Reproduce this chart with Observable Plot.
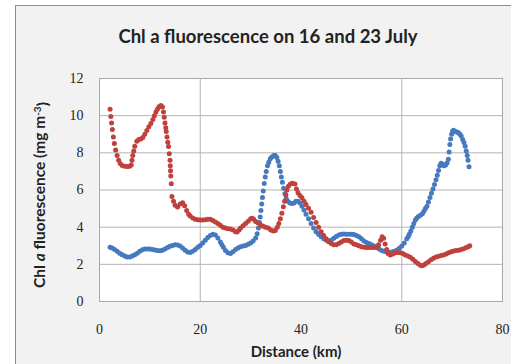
<!DOCTYPE html>
<html>
<head>
<meta charset="utf-8">
<script src="https://cdn.jsdelivr.net/npm/d3@7"></script>
<script src="https://cdn.jsdelivr.net/npm/@observablehq/plot@0.6"></script>
<style>
  html, body { margin: 0; padding: 0; background: #ffffff; }
  #chart { position: relative; width: 511px; height: 364px; overflow: hidden; }
  #area { position: absolute; left: 15px; top: 5px; width: 520px; height: 380px;
          border: 1.5px solid #8c8c8c; background: #f2f2f2; box-sizing: border-box; }
  #chart svg { position: absolute; left: 0; top: 0; }
</style>
</head>
<body>
<div id="chart"><div id="area"></div></div>
<script>
// Chlorophyll a fluorescence along the transect: [distance km, mg m^-3]
const july16 = [
  [2.1,2.92],[2.5,2.88],[3.0,2.8],[3.5,2.7],[4.0,2.6],[4.5,2.52],[5.0,2.45],[5.5,2.4],[6.0,2.4],
  [6.5,2.45],[7.0,2.52],[7.5,2.6],[8.0,2.7],[8.5,2.78],[9.0,2.83],[9.5,2.83],[10.0,2.82],[10.5,2.8],
  [11.0,2.77],[11.5,2.74],[12.0,2.73],[12.5,2.76],[13.0,2.82],[13.5,2.9],[14.0,2.97],[14.5,3.02],
  [15.0,3.05],[15.5,3.04],[16.0,2.98],[16.5,2.88],[17.0,2.76],[17.5,2.66],[18.0,2.64],[18.5,2.7],
  [19.0,2.8],[19.5,2.92],[20.0,3.02],[20.5,3.15],[21.0,3.3],[21.5,3.45],[22.0,3.55],[22.5,3.62],
  [23.0,3.58],[23.5,3.42],[24.0,3.2],[24.3,3.05],[24.6,2.92],[25.0,2.75],[25.5,2.62],[26.0,2.58],
  [26.5,2.68],[27.0,2.8],[27.5,2.88],[28.0,2.94],[28.5,2.98],[29.0,3.02],[29.5,3.08],[30.0,3.15],
  [30.5,3.25],[31.0,3.42],[31.3,3.65],[31.55,3.95],[31.75,4.25],[31.9,4.55],[32.05,4.9],[32.2,5.25],
  [32.35,5.6],[32.5,5.95],[32.7,6.35],[32.9,6.7],[33.1,7.0],[33.35,7.3],[33.6,7.5],[33.9,7.68],
  [34.2,7.78],[34.6,7.85],[34.9,7.85],[35.2,7.75],[35.45,7.55],[35.7,7.3],[35.9,7.0],[36.1,6.7],
  [36.3,6.42],[36.55,6.1],[36.8,5.8],[37.05,5.55],[37.4,5.4],[37.8,5.3],[38.2,5.28],[38.6,5.3],
  [39.0,5.4],[39.4,5.4],[39.8,5.3],[40.2,5.12],[40.6,4.92],[41.0,4.7],[41.5,4.45],[42.0,4.2],
  [42.5,3.95],[43.0,3.75],[43.5,3.6],[44.0,3.48],[44.5,3.38],[45.0,3.3],[45.5,3.27],[46.0,3.3],
  [46.5,3.4],[47.0,3.5],[47.5,3.58],[48.0,3.62],[48.5,3.63],[49.0,3.62],[49.5,3.62],[50.0,3.62],
  [50.5,3.6],[51.0,3.55],[51.5,3.48],[52.0,3.38],[52.5,3.25],[53.0,3.18],[53.5,3.12],[54.0,3.05],
  [54.5,2.98],[55.0,2.9],[55.5,2.82],[56.0,2.75],[56.5,2.7],[57.0,2.67],[57.5,2.65],[58.0,2.66],
  [58.5,2.7],[59.0,2.76],[59.5,2.86],[60.0,2.98],[60.5,3.15],[61.0,3.38],[61.3,3.5],[61.5,3.62],
  [61.8,3.8],[62.1,4.0],[62.4,4.2],[62.7,4.38],[63.0,4.5],[63.3,4.58],[63.7,4.64],[64.1,4.72],
  [64.4,4.85],[64.7,5.0],[65.0,5.12],[65.3,5.35],[65.6,5.6],[65.9,5.82],[66.2,6.05],[66.5,6.3],
  [66.8,6.55],[67.05,6.8],[67.3,7.05],[67.55,7.3],[67.8,7.44],[68.1,7.38],[68.4,7.3],[68.7,7.35],
  [69.0,7.45],[69.25,7.65],[69.4,8.05],[69.55,8.45],[69.7,8.75],[69.9,9.0],[70.1,9.18],[70.3,9.22],
  [70.6,9.15],[70.9,9.12],[71.2,9.1],[71.5,9.02],[71.8,8.9],[72.1,8.72],[72.35,8.55],[72.6,8.35],
  [72.8,8.1],[73.0,7.85],[73.15,7.6],[73.35,7.25]
];

const july23 = [
  [2.1,10.35],[2.25,9.95],[2.4,9.6],[2.55,9.25],[2.75,8.85],[2.95,8.5],[3.2,8.15],[3.5,7.85],
  [3.8,7.6],[4.1,7.42],[4.5,7.32],[5.0,7.28],[5.5,7.27],[6.0,7.28],[6.3,7.35],[6.45,7.6],[6.6,7.85],
  [6.8,8.1],[7.0,8.35],[7.4,8.62],[7.8,8.72],[8.2,8.75],[8.6,8.82],[9.0,9.0],[9.4,9.2],[9.8,9.4],
  [10.2,9.58],[10.6,9.8],[10.9,10.0],[11.2,10.2],[11.5,10.35],[11.8,10.48],[12.2,10.55],[12.5,10.47],
  [12.7,10.2],[12.85,9.92],[13.0,9.6],[13.15,9.35],[13.25,9.15],[13.4,8.85],[13.55,8.57],[13.7,8.34],
  [13.85,7.95],[14.0,7.6],[14.05,7.31],[14.1,7.04],[14.15,6.75],[14.25,6.33],[14.37,5.65],
  [14.7,5.4],[15.0,5.18],[15.5,5.08],[16.0,5.25],[16.5,5.32],[16.9,5.15],[17.3,4.9],[17.7,4.7],
  [18.0,4.6],[18.5,4.5],[19.0,4.43],[19.5,4.4],[20.0,4.39],[20.5,4.38],[21.0,4.4],[21.5,4.42],
  [22.0,4.42],[22.5,4.36],[23.0,4.28],[23.5,4.2],[24.0,4.1],[24.5,4.0],[25.0,3.95],[25.5,3.92],
  [26.0,3.9],[26.5,3.85],[27.0,3.76],[27.3,3.74],[27.7,3.85],[28.0,3.95],[28.5,4.08],[29.0,4.2],
  [29.5,4.32],[30.0,4.45],[30.3,4.48],[30.6,4.42],[31.0,4.3],[31.5,4.22],[32.0,4.12],[32.5,4.05],
  [33.0,4.0],[33.5,3.95],[34.0,3.85],[34.5,3.8],[34.9,3.82],[35.3,4.0],[35.6,4.2],[35.9,4.45],
  [36.2,4.75],[36.5,5.1],[36.75,5.4],[37.0,5.75],[37.2,6.0],[37.5,6.2],[37.9,6.32],[38.3,6.36],
  [38.8,6.32],[39.1,6.05],[39.4,5.85],[39.8,5.7],[40.2,5.58],[40.6,5.4],[41.0,5.22],[41.5,5.02],
  [42.0,4.8],[42.5,4.52],[43.0,4.25],[43.5,4.0],[44.0,3.75],[44.5,3.55],[45.0,3.38],[45.5,3.22],
  [46.0,3.12],[46.5,3.06],[47.0,3.06],[47.5,3.12],[48.0,3.2],[48.5,3.28],[49.0,3.3],[49.5,3.28],
  [50.0,3.2],[50.5,3.1],[51.0,3.05],[51.5,3.0],[52.0,2.95],[52.5,2.92],[53.0,2.9],[53.5,2.9],
  [54.0,2.9],[54.5,2.9],[55.0,2.92],[55.4,3.05],[55.8,3.3],[56.1,3.48],[56.4,3.4],[56.7,3.1],
  [57.0,2.8],[57.3,2.58],[57.7,2.5],[58.2,2.55],[58.7,2.62],[59.2,2.64],[59.7,2.63],[60.2,2.58],
  [60.7,2.5],[61.2,2.45],[61.7,2.38],[62.2,2.28],[62.7,2.15],[63.2,2.05],[63.7,1.95],[64.0,1.92],
  [64.4,1.97],[64.8,2.05],[65.3,2.14],[65.8,2.25],[66.3,2.33],[66.8,2.4],[67.3,2.44],[67.8,2.48],
  [68.3,2.5],[68.8,2.55],[69.3,2.62],[69.8,2.68],[70.3,2.72],[70.8,2.74],[71.3,2.76],[71.8,2.8],
  [72.3,2.84],[72.8,2.9],[73.2,2.95],[73.5,3.0]
];

const xTicks = [0, 20, 40, 60, 80];
const yTicks = [0, 2, 4, 6, 8, 10, 12];
const xGrid = [20, 60];
const yGrid = [2, 4, 6, 8, 10];

const titleText = "Chl a fluorescence on 16 and 23 July";
const xLabel = "Distance (km)";

const blue = "#4579c0";
const red = "#c0403b";
const dotR = 2.5;

const chart = Plot.plot({
  width: 511,
  height: 364,
  marginLeft: 99,
  marginRight: 9,
  marginTop: 78,
  marginBottom: 63,
  style: { background: "transparent", fontFamily: "'Liberation Serif', serif", fontSize: "14px", color: "#222" },
  x: { domain: [0, 80] },
  y: { domain: [0, 12] },
  marks: [
    Plot.frame({ fill: "white", stroke: "none" }),
    Plot.gridY(yGrid, { stroke: "#b4b4b4", strokeOpacity: 1, strokeWidth: 1 }),
    Plot.gridX(xGrid, { stroke: "#b4b4b4", strokeOpacity: 1, strokeWidth: 1 }),
    Plot.frame({ stroke: "#a8a8a8", strokeWidth: 1 }),
    Plot.dot(july16, { x: d => d[0], y: d => d[1], r: dotR, fill: blue, stroke: "none" }),
    Plot.dot(july23, { x: d => d[0], y: d => d[1], r: dotR, fill: red, stroke: "none" }),
    Plot.axisY(yTicks, { tickSize: 0, tickPadding: 16, label: null, fill: "#222" }),
    Plot.axisX(xTicks, { tickSize: 0, tickPadding: 23, label: null, fill: "#222" })
  ]
});

document.getElementById("chart").appendChild(chart);

// Title, axis titles (the y title carries an italic "a" and a superscript)
const svg = d3.select(chart);
const sans = "Lato, 'Open Sans', sans-serif";

svg.append("text")
  .attr("x", 268).attr("y", 37).attr("dy", "0.35em")
  .attr("text-anchor", "middle")
  .style("font-family", sans).style("font-size", "18.5px").style("font-weight", "bold")
  .attr("fill", "#222")
  .text(titleText);

svg.append("text")
  .attr("x", 296).attr("y", 352).attr("dy", "0.35em")
  .attr("text-anchor", "middle")
  .style("font-family", sans).style("font-size", "15px").style("font-weight", "bold")
  .attr("fill", "#222")
  .text(xLabel);

const yt = svg.append("text")
  .attr("transform", "translate(40,195) rotate(-90)")
  .attr("dy", "0.35em")
  .attr("text-anchor", "middle")
  .style("font-family", sans).style("font-size", "15.5px").style("font-weight", "bold")
  .attr("fill", "#222");
yt.append("tspan").text("Chl ");
yt.append("tspan").style("font-style", "italic").text("a");
yt.append("tspan").text(" fluorescence (mg m");
yt.append("tspan").attr("dy", "-0.45em").style("font-size", "10px").text("-3");
yt.append("tspan").attr("dy", "0.45em").text(")");
</script>
</body>
</html>
